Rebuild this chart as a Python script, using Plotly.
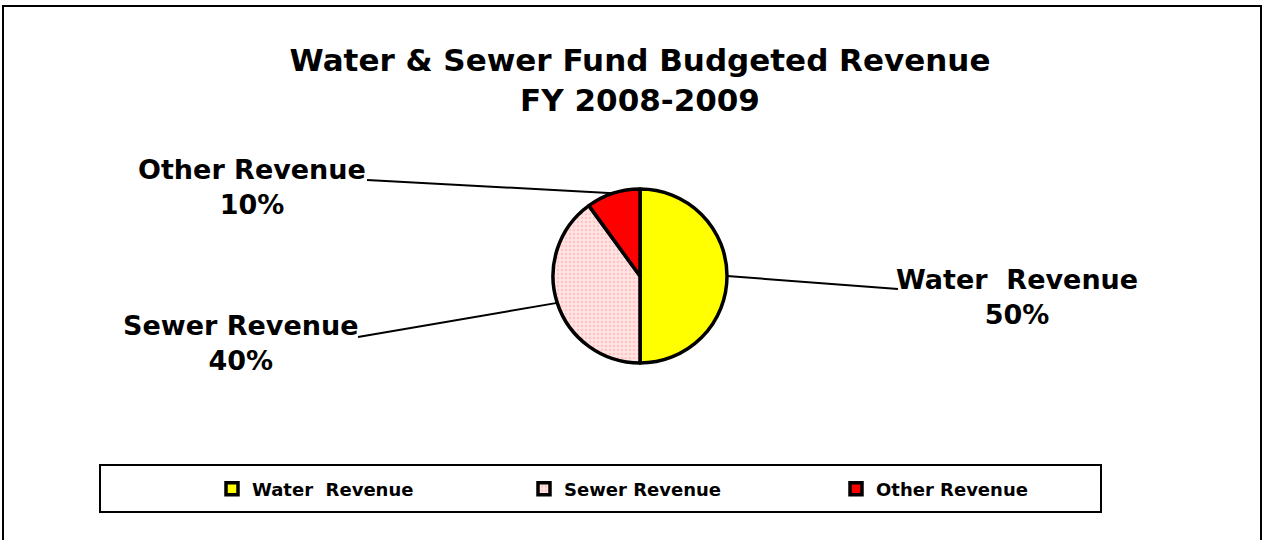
import math
import plotly.graph_objects as go

# ---- data ----
categories = ["Water  Revenue", "Sewer Revenue", "Other Revenue"]
shares = [50, 40, 10]
slice_colors = ["#FFFF00", "#FFE4E4", "#FF0000"]
title_lines = ["Water & Sewer Fund Budgeted Revenue", "FY 2008-2009"]

W, H = 1263, 540
FONT = "DejaVu Sans"

# pie geometry (layout, pixels)
cx_px, cy_px, r_px = 640, 276, 87
dom_x = [(cx_px - r_px) / W, (cx_px + r_px) / W]
dom_y = [1 - (cy_px + r_px) / H, 1 - (cy_px - r_px) / H]

fig = go.Figure()
fig.add_trace(go.Pie(
    labels=categories,
    values=shares,
    sort=False,
    direction="clockwise",
    rotation=0,
    textinfo="none",
    hoverinfo="label+percent",
    marker=dict(
        colors=slice_colors,
        line=dict(color="#000000", width=3.5),
        pattern=dict(shape=["", ".", ""], fgcolor="#FFC4C4", bgcolor=slice_colors,
                     size=4, solidity=0.35),
    ),
    domain=dict(x=dom_x, y=dom_y),
    showlegend=True,
))

# label anchor positions (pixels) : (text centre x, text centre y, leader line end x, end y)
label_pos = {
    "Water  Revenue": (1017, 297, 898, 289),
    "Sewer Revenue": (241, 343, 358, 337),
    "Other Revenue": (252, 187, 367, 180),
}

total = sum(shares)
cum = 0.0
shapes = []
annotations = []
for cat, val in zip(categories, shares):
    mid = (cum + val / 2) / total
    cum += val
    theta = 2 * math.pi * mid
    ex = (cx_px + r_px * math.sin(theta)) / W
    ey = 1 - (cy_px - r_px * math.cos(theta)) / H
    tx, ty, lx, ly = label_pos[cat]
    shapes.append(dict(type="line", xref="paper", yref="paper",
                       x0=lx / W, y0=1 - ly / H, x1=ex, y1=ey,
                       line=dict(color="#000000", width=2), layer="below"))
    annotations.append(dict(
        xref="paper", yref="paper", x=tx / W, y=1 - ty / H,
        xanchor="center", yanchor="middle", showarrow=False,
        text=f"{cat}<br>{round(100 * val / total)}%",
        font=dict(family=FONT, size=27, color="#000000", weight="bold"), align="center",
    ))

# outer chart border and legend frame
shapes.append(dict(type="rect", xref="paper", yref="paper",
                   x0=3 / W, x1=1261 / W, y0=-0.1, y1=1 - 6 / H,
                   line=dict(color="#000000", width=2)))
shapes.append(dict(type="rect", xref="paper", yref="paper",
                   x0=100 / W, x1=1101 / W, y0=1 - 512 / H, y1=1 - 465 / H,
                   line=dict(color="#000000", width=2)))

fig.update_layout(
    width=W, height=H,
    margin=dict(l=0, r=0, t=0, b=0),
    paper_bgcolor="#FFFFFF",
    plot_bgcolor="#FFFFFF",
    font=dict(family=FONT, color="#000000"),
    title=dict(
        text="<br>".join(title_lines),
        x=640 / W, xanchor="center",
        y=1 - 71 / H, yanchor="middle",
        font=dict(family=FONT, size=31, color="#000000", weight="bold"),
    ),
    legend=dict(
        orientation="h",
        x=212 / W, xanchor="left",
        y=1 - 489 / H, yanchor="middle",
        entrywidth=267, entrywidthmode="pixels",
        font=dict(family=FONT, size=18, color="#000000", weight="bold"),
        bgcolor="rgba(0,0,0,0)", borderwidth=0,
        traceorder="normal",
    ),
    shapes=shapes,
    annotations=annotations,
)

fig.write_html("out.html", config={"displayModeBar": False},
               post_script="document.body.style.margin='0';")
